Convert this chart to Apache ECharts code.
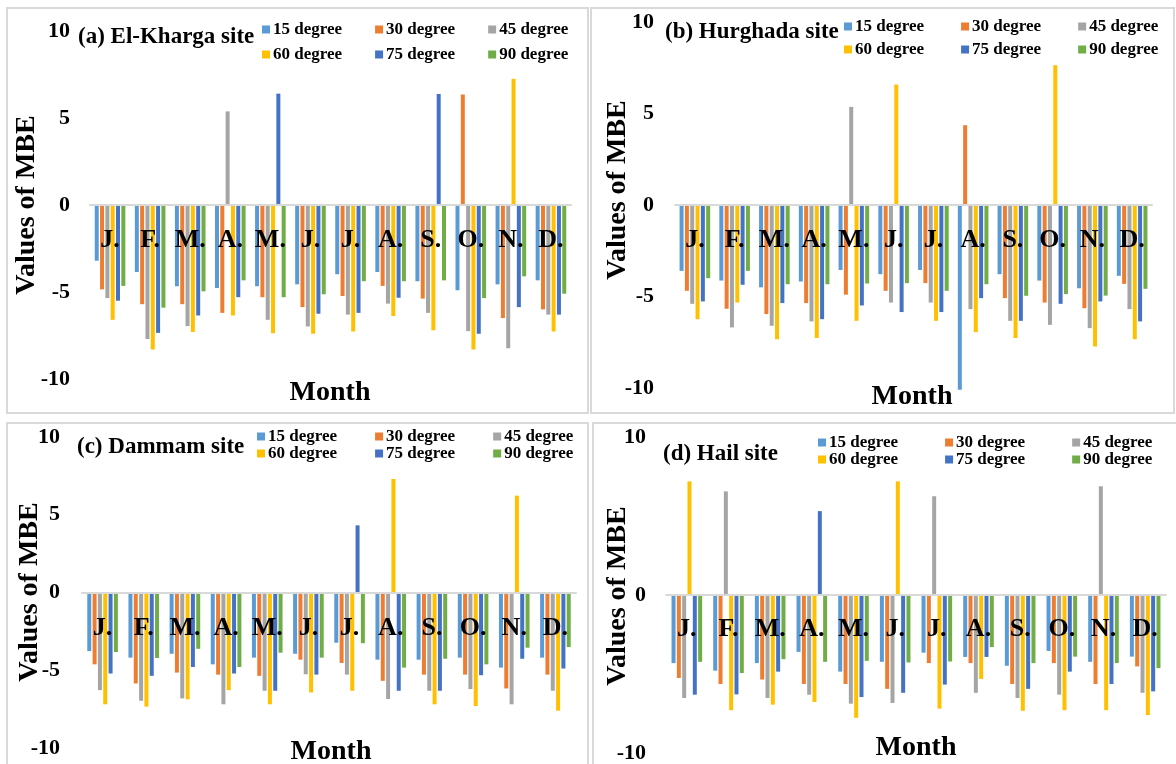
<!DOCTYPE html>
<html>
<head>
<meta charset="utf-8">
<script src="https://cdn.jsdelivr.net/npm/echarts@6/dist/echarts.min.js"></script>
<style>
html,body{margin:0;padding:0;background:#fff;}
#chart{width:1176px;height:764px;}
</style>
</head>
<body>
<div id="chart"></div>
<script>
// ---- data ----
const months = ['J.', 'F.', 'M.', 'A.', 'M.', 'J.', 'J.', 'A.', 'S.', 'O.', 'N.', 'D.'];
const angleNames = ['15 degree', '30 degree', '45 degree', '60 degree', '75 degree', '90 degree'];
const siteTitles = ['(a) El-Kharga site', '(b) Hurghada site', '(c) Dammam site', '(d) Hail site'];
const yTicksA = [-10, -5, 0, 5, 10];
const yTicksD = [-10, 0, 10];

// (a) El-Kharga
const kharga15 = [-3.2, -3.85, -4.67, -4.77, -4.67, -4.56, -3.98, -3.85, -4.38, -4.9, -4.56, -4.33];
const kharga30 = [-4.85, -5.7, -5.7, -6.2, -5.3, -5.87, -5.23, -4.65, -5.38, 6.35, -6.5, -6.0];
const kharga45 = [-5.35, -7.7, -6.96, 5.38, -6.6, -6.98, -6.3, -5.67, -6.2, -7.25, -8.23, -6.3];
const kharga60 = [-6.6, -8.3, -7.3, -6.35, -7.37, -7.4, -7.27, -6.38, -7.2, -8.3, 7.25, -7.27];
const kharga75 = [-5.5, -7.35, -6.35, -5.3, 6.4, -6.25, -6.2, -5.33, 6.38, -7.4, -5.87, -6.3];
const kharga90 = [-4.65, -5.9, -4.96, -4.33, -5.3, -5.13, -4.38, -4.38, -4.33, -5.35, -4.1, -5.1];

// (b) Hurghada
const hurghada15 = [-3.6, -4.13, -4.5, -4.18, -3.55, -3.78, -3.55, -10.1, -3.78, -4.13, -4.55, -3.87];
const hurghada30 = [-4.69, -5.67, -5.96, -5.36, -4.9, -4.69, -4.27, 4.36, -5.09, -5.33, -5.64, -4.31];
const hurghada45 = [-5.4, -6.69, -6.6, -6.36, 5.36, -5.33, -5.33, -5.69, -6.33, -6.55, -6.73, -5.69];
const hurghada60 = [-6.24, -5.33, -7.33, -7.27, -6.33, 6.58, -6.33, -6.95, -7.27, 7.64, -7.73, -7.33];
const hurghada75 = [-5.27, -4.36, -5.36, -6.24, -5.49, -5.85, -5.85, -5.09, -6.33, -5.4, -5.27, -6.36];
const hurghada90 = [-4.0, -3.6, -4.33, -4.33, -4.29, -4.27, -4.69, -4.33, -4.96, -4.87, -4.95, -4.58];

// (c) Dammam
const dammam15 = [-3.77, -4.19, -3.94, -4.62, -4.19, -3.94, -3.23, -4.32, -4.32, -4.19, -4.83, -4.19];
const dammam30 = [-4.62, -5.85, -5.15, -5.28, -5.36, -4.32, -4.53, -5.68, -5.28, -5.28, -6.17, -5.28];
const dammam45 = [-6.28, -6.96, -6.81, -7.19, -6.32, -5.26, -5.28, -6.85, -6.32, -6.21, -7.19, -6.32];
const dammam60 = [-7.19, -7.34, -6.87, -6.28, -7.19, -6.43, -6.32, 7.3, -7.19, -7.3, 6.23, -7.6];
const dammam75 = [-5.21, -5.36, -4.79, -5.21, -6.32, -5.28, 4.32, -6.32, -6.32, -5.32, -4.26, -4.89];
const dammam90 = [-3.83, -4.21, -3.62, -4.79, -3.87, -4.19, -3.26, -4.83, -4.26, -4.62, -3.55, -3.51];

// (d) Hail
const hail15 = [-4.31, -4.79, -4.31, -3.6, -4.85, -4.23, -3.65, -3.92, -4.48, -3.54, -4.23, -3.9];
const hail30 = [-5.25, -5.63, -5.35, -5.63, -5.63, -5.94, -4.31, -4.31, -5.63, -4.31, -5.63, -4.52];
const hail45 = [-6.52, 6.56, -6.52, -6.31, -6.88, -6.83, 6.25, -6.19, -6.52, -6.31, 6.88, -6.19];
const hail60 = [7.19, -7.29, -6.94, -6.77, -7.77, 7.19, -7.19, -5.31, -7.33, -7.29, -7.29, -7.6];
const hail75 = [-6.31, -6.29, -4.85, 5.31, -6.46, -6.19, -5.67, -3.92, -5.94, -4.85, -5.63, -6.1];
const hail90 = [-4.23, -4.94, -4.06, -4.23, -4.17, -4.27, -4.21, -3.29, -4.31, -3.9, -4.31, -4.63];

const siteData = [
  [kharga15, kharga30, kharga45, kharga60, kharga75, kharga90],
  [hurghada15, hurghada30, hurghada45, hurghada60, hurghada75, hurghada90],
  [dammam15, dammam30, dammam45, dammam60, dammam75, dammam90],
  [hail15, hail30, hail45, hail60, hail75, hail90]
];

// ---- styling / layout ----
const colors = ['#5B9BD5', '#ED7D31', '#A5A5A5', '#FFC000', '#4472C4', '#70AD47'];
const FONT = '"Liberation Serif", "Times New Roman", serif';

const panels = [
  { grid: { left: 90, top: 31, width: 481, height: 348 }, ticks: yTicksA, yLabelMargin: 20, monthBelowZero: 22,
    title: { left: 78, top: 26 }, legend: { left: 262, rows: [21, 46], gap: 33 },
    box: [7, 8, 581, 405], yName: [27, 205], xName: [330, 393] },
  { grid: { left: 675, top: 22, width: 477, height: 366 }, ticks: yTicksA, yLabelMargin: 21, monthBelowZero: 22,
    title: { left: 665, top: 21 }, legend: { left: 844, rows: [18, 41], gap: 37 },
    box: [591, 8, 583, 405], yName: [618, 190], xName: [912, 397] },
  { grid: { left: 82, top: 437, width: 494, height: 311 }, ticks: yTicksA, yLabelMargin: 22, monthBelowZero: 23,
    title: { left: 77, top: 436 }, legend: { left: 257, rows: [428, 445], gap: 38 },
    box: [7, 423, 581, 345], yName: [30, 592], xName: [331, 752] },
  { grid: { left: 666, top: 437, width: 500, height: 320 }, ticks: yTicksD, yLabelMargin: 20, monthBelowZero: 23,
    title: { left: 663, top: 443 }, legend: { left: 818, rows: [434, 451], gap: 47 },
    box: [593, 423, 585, 345], yName: [618, 596], xName: [916, 748] }
];

const option = {
  animation: false,
  backgroundColor: '#ffffff',
  color: colors,
  grid: [], xAxis: [], yAxis: [], series: [], legend: [], title: [], graphic: []
};

panels.forEach((p, i) => {
  option.grid.push(Object.assign({ containLabel: false }, p.grid));
  // month labels sit just below the zero line (the axis line is drawn on zero)
  const yMin = p.ticks[0], yMax = p.ticks[p.ticks.length - 1];
  const zeroFromBottom = p.grid.height * (0 - yMin) / (yMax - yMin);
  option.xAxis.push({
    type: 'category', gridIndex: i, data: months, z: 10,
    axisLine: { onZero: true, lineStyle: { color: '#D9D9D9', width: 2 } },
    axisTick: { show: false },
    axisLabel: { interval: 0, margin: p.monthBelowZero - zeroFromBottom, color: '#000', fontFamily: FONT, fontWeight: 'bold', fontSize: 26 },
    splitLine: { show: false }
  });
  option.yAxis.push({
    type: 'value', gridIndex: i, min: yMin, max: yMax, interval: p.ticks[1] - p.ticks[0],
    axisLine: { show: false }, axisTick: { show: false }, splitLine: { show: false },
    axisLabel: { margin: p.yLabelMargin, color: '#000', fontFamily: FONT, fontWeight: 'bold', fontSize: 22 }
  });
  angleNames.forEach((name, k) => {
    option.series.push({
      name: name, type: 'bar', xAxisIndex: i, yAxisIndex: i,
      data: siteData[i][k], barWidth: 4, barGap: '33%', clip: false,
      itemStyle: { color: colors[k] }
    });
  });
  option.title.push({
    text: siteTitles[i], left: p.title.left, top: p.title.top, padding: 0,
    textStyle: { fontFamily: FONT, fontWeight: 'bold', fontSize: 23, color: '#000' }
  });
  [0, 1].forEach(r => {
    option.legend.push({
      data: angleNames.slice(r * 3, r * 3 + 3), left: p.legend.left, top: p.legend.rows[r],
      orient: 'horizontal', padding: 0, itemGap: p.legend.gap, itemWidth: 8, itemHeight: 8,
      icon: 'rect', selectedMode: false,
      textStyle: { fontFamily: FONT, fontWeight: 'bold', fontSize: 17, color: '#000', padding: [0, 0, 0, -2] }
    });
  });
  option.graphic.push({
    type: 'rect', silent: true, z: -1,
    shape: { x: p.box[0], y: p.box[1], width: p.box[2], height: p.box[3] },
    style: { fill: 'none', stroke: '#D9D9D9', lineWidth: 2 }
  });
  option.graphic.push({
    type: 'text', x: p.yName[0], y: p.yName[1], rotation: Math.PI / 2,
    style: { text: 'Values of MBE', font: 'bold 28px ' + FONT, fill: '#000', textAlign: 'center', textVerticalAlign: 'middle' }
  });
  option.graphic.push({
    type: 'text', x: p.xName[0], y: p.xName[1],
    style: { text: 'Month', font: 'bold 28px ' + FONT, fill: '#000', textAlign: 'center', textVerticalAlign: 'middle' }
  });
});

const chart = echarts.init(document.getElementById('chart'), null, { renderer: 'canvas' });
chart.setOption(option);
</script>
</body>
</html>
